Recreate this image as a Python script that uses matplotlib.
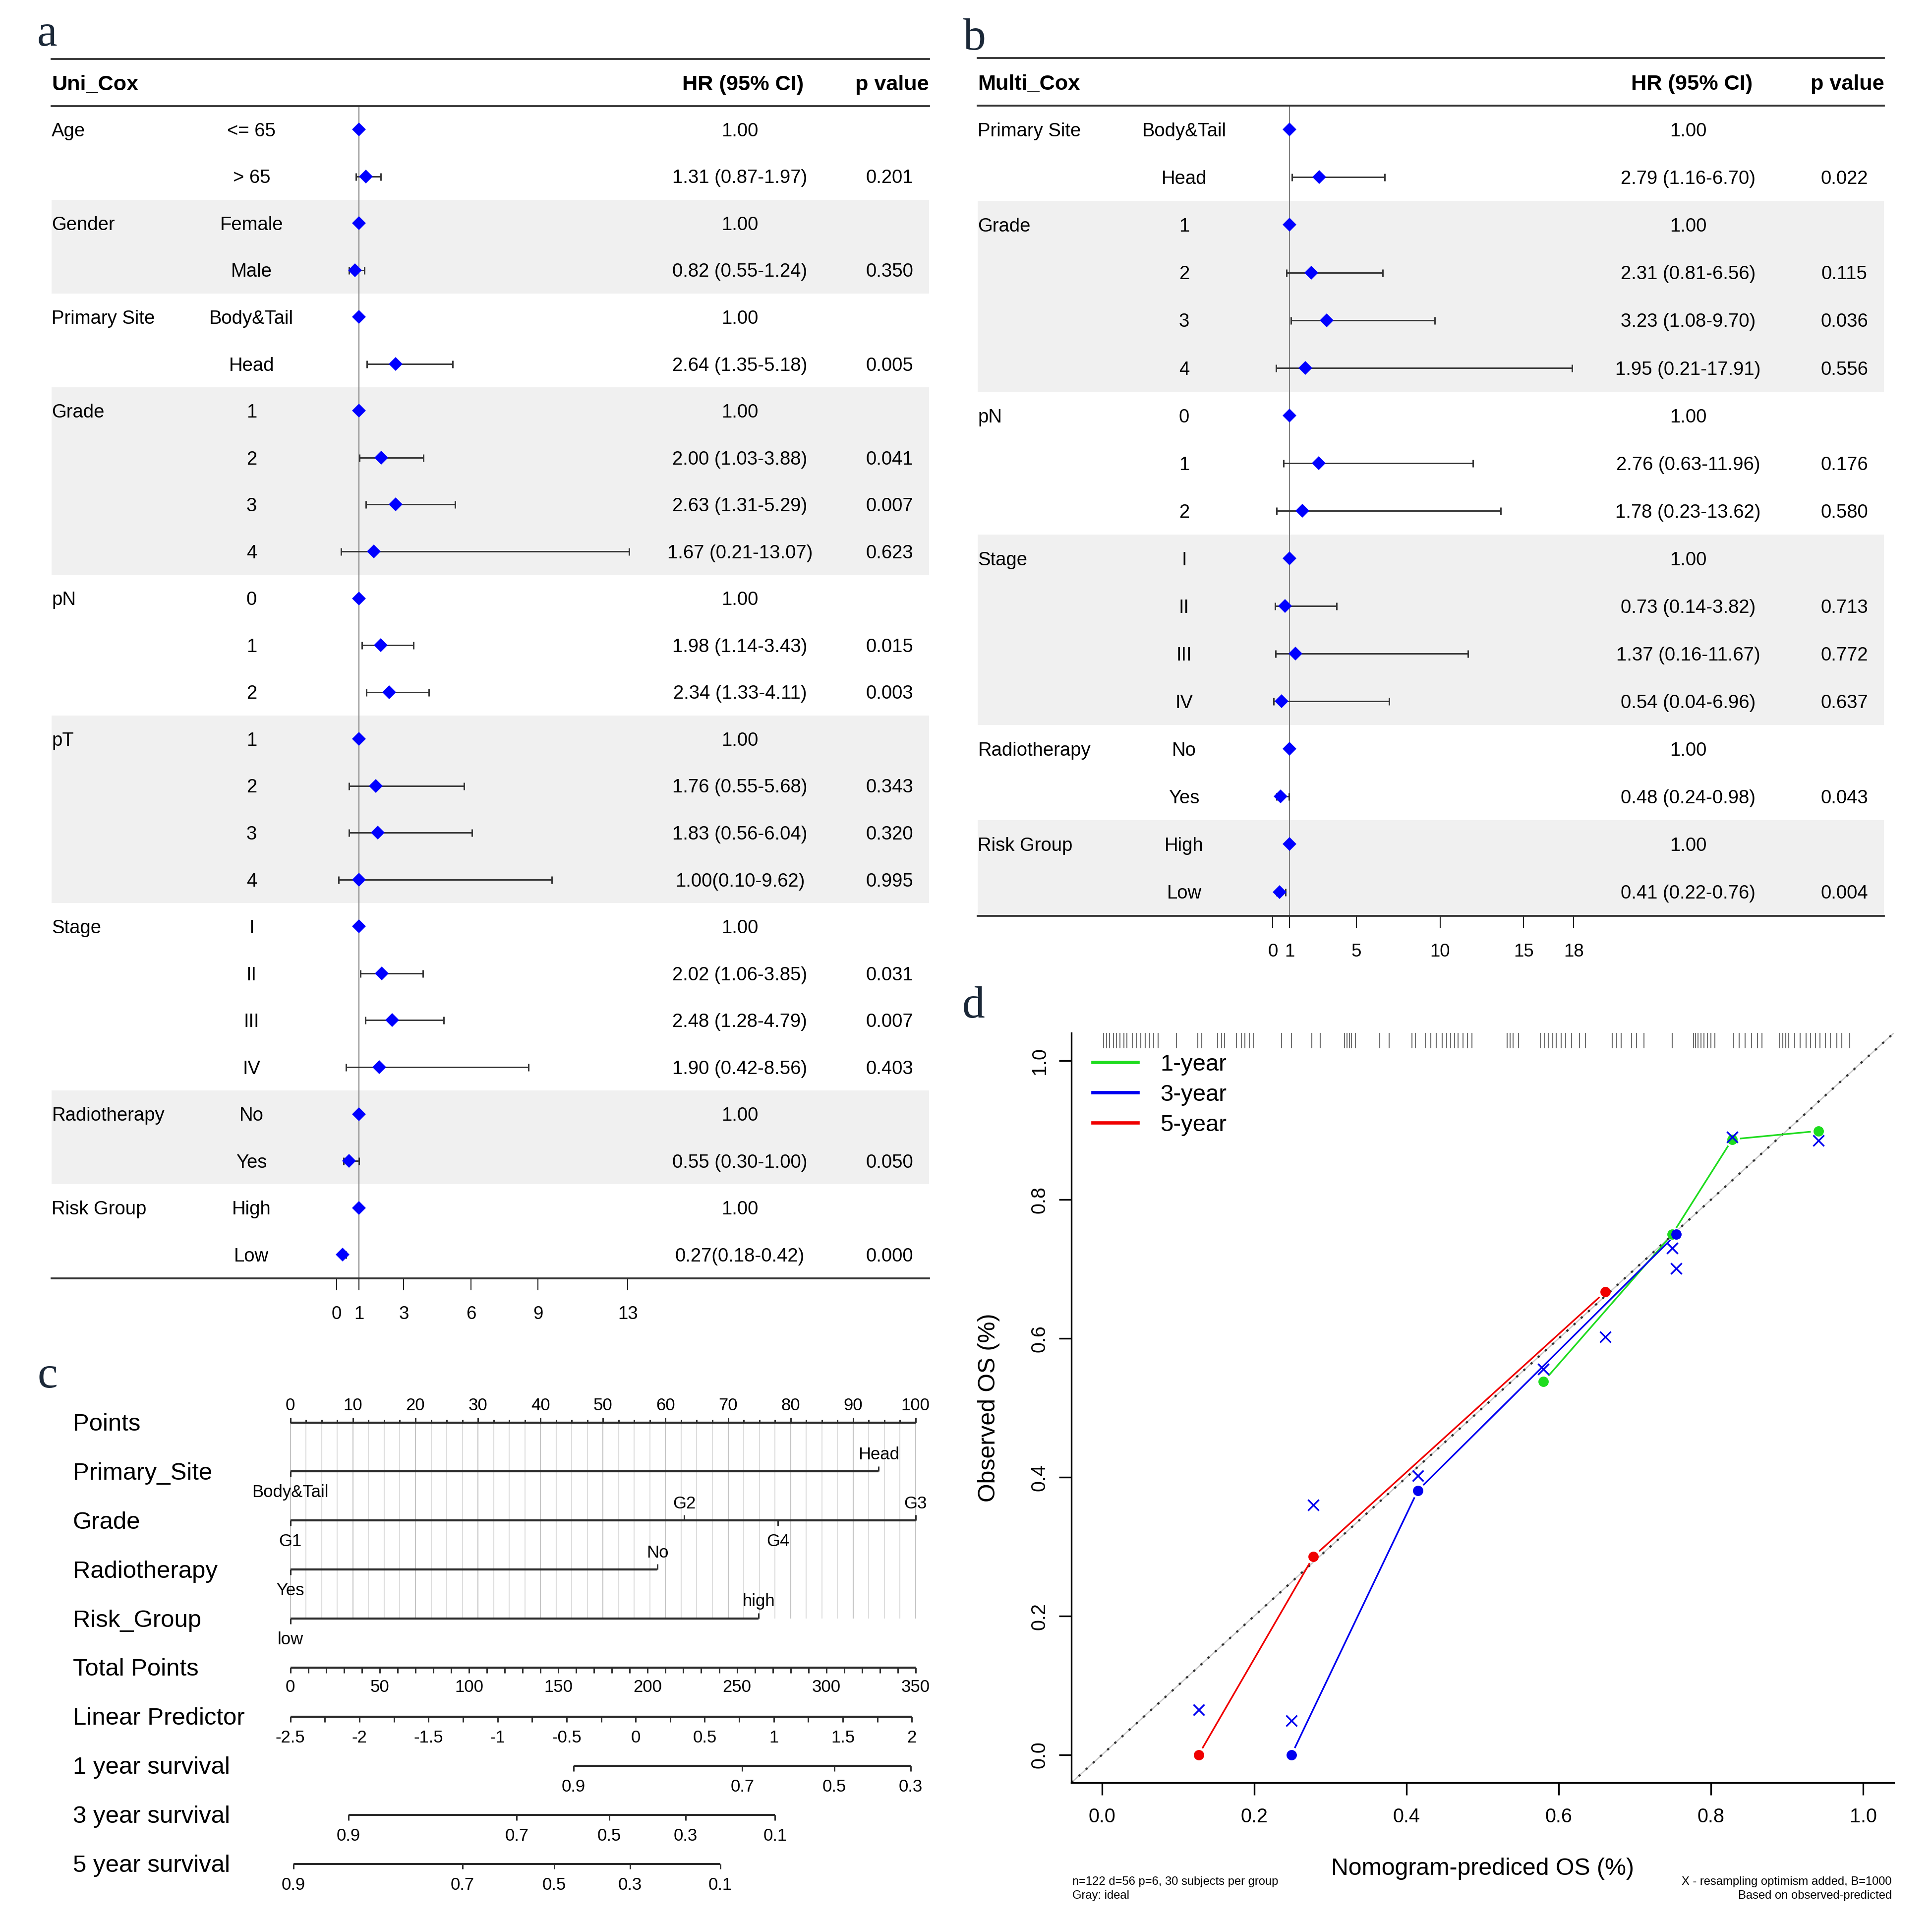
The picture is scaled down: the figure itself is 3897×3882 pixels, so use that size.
import numpy as np
import matplotlib
matplotlib.use('Agg')
import matplotlib.pyplot as plt
from matplotlib.lines import Line2D
from matplotlib.transforms import blended_transform_factory

plt.rcParams['font.family'] = ['Liberation Sans', 'DejaVu Sans']

# ---------------- panel a : univariate Cox ----------------
uni_groups = ['Age', 'Gender', 'Primary Site', 'Grade', 'pN', 'pT', 'Stage', 'Radiotherapy', 'Risk Group']
uni_levels = [['<= 65', '> 65'], ['Female', 'Male'], ['Body&Tail', 'Head'], ['1', '2', '3', '4'],
              ['0', '1', '2'], ['1', '2', '3', '4'], ['I', 'II', 'III', 'IV'], ['No', 'Yes'], ['High', 'Low']]
uni_hr = [1.00, 1.31, 1.00, 0.82, 1.00, 2.64, 1.00, 2.00, 2.63, 1.67, 1.00, 1.98, 2.34,
          1.00, 1.76, 1.83, 1.00, 1.00, 2.02, 2.48, 1.90, 1.00, 0.55, 1.00, 0.27]
uni_lo = [1.00, 0.87, 1.00, 0.55, 1.00, 1.35, 1.00, 1.03, 1.31, 0.21, 1.00, 1.14, 1.33,
          1.00, 0.55, 0.56, 0.10, 1.00, 1.06, 1.28, 0.42, 1.00, 0.30, 1.00, 0.18]
uni_hi = [1.00, 1.97, 1.00, 1.24, 1.00, 5.18, 1.00, 3.88, 5.29, 13.07, 1.00, 3.43, 4.11,
          1.00, 5.68, 6.04, 9.62, 1.00, 3.85, 4.79, 8.56, 1.00, 1.00, 1.00, 0.42]
uni_hr_text = ['1.00', '1.31 (0.87-1.97)', '1.00', '0.82 (0.55-1.24)', '1.00', '2.64 (1.35-5.18)',
               '1.00', '2.00 (1.03-3.88)', '2.63 (1.31-5.29)', '1.67 (0.21-13.07)',
               '1.00', '1.98 (1.14-3.43)', '2.34 (1.33-4.11)',
               '1.00', '1.76 (0.55-5.68)', '1.83 (0.56-6.04)', '1.00(0.10-9.62)',
               '1.00', '2.02 (1.06-3.85)', '2.48 (1.28-4.79)', '1.90 (0.42-8.56)',
               '1.00', '0.55 (0.30-1.00)', '1.00', '0.27(0.18-0.42)']
uni_p = ['', '0.201', '', '0.350', '', '0.005', '', '0.041', '0.007', '0.623', '', '0.015', '0.003',
         '', '0.343', '0.320', '0.995', '', '0.031', '0.007', '0.403', '', '0.050', '', '0.000']
uni_shaded = [False, True, False, True, False, True, False, True, False]
uni_ticks = [0, 1, 3, 6, 9, 13]

# ---------------- panel b : multivariate Cox ----------------
multi_groups = ['Primary Site', 'Grade', 'pN', 'Stage', 'Radiotherapy', 'Risk Group']
multi_levels = [['Body&Tail', 'Head'], ['1', '2', '3', '4'], ['0', '1', '2'],
                ['I', 'II', 'III', 'IV'], ['No', 'Yes'], ['High', 'Low']]
multi_hr = [1.00, 2.79, 1.00, 2.31, 3.23, 1.95, 1.00, 2.76, 1.78, 1.00, 0.73, 1.37, 0.54, 1.00, 0.48, 1.00, 0.41]
multi_lo = [1.00, 1.16, 1.00, 0.81, 1.08, 0.21, 1.00, 0.63, 0.23, 1.00, 0.14, 0.16, 0.04, 1.00, 0.24, 1.00, 0.22]
multi_hi = [1.00, 6.70, 1.00, 6.56, 9.70, 17.91, 1.00, 11.96, 13.62, 1.00, 3.82, 11.67, 6.96, 1.00, 0.98, 1.00, 0.76]
multi_hr_text = ['1.00', '2.79 (1.16-6.70)', '1.00', '2.31 (0.81-6.56)', '3.23 (1.08-9.70)', '1.95 (0.21-17.91)',
                 '1.00', '2.76 (0.63-11.96)', '1.78 (0.23-13.62)',
                 '1.00', '0.73 (0.14-3.82)', '1.37 (0.16-11.67)', '0.54 (0.04-6.96)',
                 '1.00', '0.48 (0.24-0.98)', '1.00', '0.41 (0.22-0.76)']
multi_p = ['', '0.022', '', '0.115', '0.036', '0.556', '', '0.176', '0.580',
           '', '0.713', '0.772', '0.637', '', '0.043', '', '0.004']
multi_shaded = [False, True, False, True, False, True]
multi_ticks = [0, 1, 5, 10, 15, 18]

# ---------------- panel c : nomogram ----------------
nomo_rows = ['Points', 'Primary_Site', 'Grade', 'Radiotherapy', 'Risk_Group',
             'Total Points', 'Linear Predictor', '1 year survival', '3 year survival', '5 year survival']
nomo_vars_levels = [['Body&Tail', 'Head'], ['G1', 'G2', 'G4', 'G3'], ['Yes', 'No'], ['low', 'high']]
nomo_vars_points = [[0, 94.1], [0, 63.0, 78.0, 100.0], [0, 58.7], [0, 74.9]]
total_points_max = 350
total_ticks_major = [0, 50, 100, 150, 200, 250, 300, 350]
lp_labels = [-2.5, -2, -1.5, -1, -0.5, 0, 0.5, 1, 1.5, 2]
lp_total_at_min = 0.0      # total points where LP = -2.5
lp_total_at_max = 347.9    # total points where LP = 2
surv_labels = [['0.9', '0.7', '0.5', '0.3'],
               ['0.9', '0.7', '0.5', '0.3', '0.1'],
               ['0.9', '0.7', '0.5', '0.3', '0.1']]
surv_total_pos = [[158.4, 253.0, 304.4, 347.2],
                  [32.4, 126.7, 178.5, 221.2, 271.3],
                  [1.7, 96.3, 147.7, 190.2, 240.6]]

# ---------------- panel d : calibration ----------------
cal_years = ['1-year', '3-year', '5-year']
cal_colors = ['#1EDC1E', '#0000F0', '#F00000']
cal_pred = [[0.580, 0.749, 0.828, 0.941], [0.249, 0.415, 0.754], [0.127, 0.278, 0.661]]
cal_obs = [[0.538, 0.750, 0.887, 0.899], [0.000, 0.381, 0.750], [0.000, 0.286, 0.667]]
cal_corr = [[0.556, 0.730, 0.890, 0.885], [0.049, 0.402, 0.701], [0.065, 0.360, 0.602]]
rug_pred = [0.002, 0.006, 0.010, 0.015, 0.019, 0.024, 0.029, 0.033, 0.040, 0.045, 0.051, 0.057, 0.063, 0.068, 0.074,
            0.098, 0.126, 0.131,
            0.152, 0.157, 0.161, 0.177, 0.183, 0.188, 0.194, 0.199,
            0.236, 0.249, 0.276, 0.287,
            0.319, 0.322, 0.325, 0.328, 0.333, 0.365, 0.377,
            0.407, 0.412, 0.425, 0.432, 0.439, 0.447, 0.453, 0.458, 0.463, 0.468, 0.474, 0.480, 0.486,
            0.532, 0.536, 0.540, 0.547,
            0.576, 0.581, 0.586, 0.592, 0.597, 0.603, 0.609, 0.617, 0.627, 0.635,
            0.670, 0.676, 0.682, 0.696, 0.702, 0.712, 0.749,
            0.777, 0.780, 0.783, 0.787, 0.791, 0.795, 0.800, 0.805,
            0.830, 0.837, 0.845, 0.853, 0.861, 0.867,
            0.890, 0.894, 0.898, 0.902, 0.910, 0.917, 0.925, 0.931, 0.937, 0.943, 0.950, 0.957, 0.965, 0.972,
            0.982]
cal_ticks = [0.0, 0.2, 0.4, 0.6, 0.8, 1.0]

# =====================================================================
DW, DH = 1560.0, 1554.0


def box(x0, y0, x1, y1):
    return [x0 / DW, 1 - y1 / DH, (x1 - x0) / DW, (y1 - y0) / DH]


fig = plt.figure(figsize=(3897 / 300, 3882 / 300), dpi=300)
fig.patch.set_facecolor('white')

RULE = '#333333'
TY = 0.04   # small downward nudge so digits sit on the row centre


def forest(ax, title, groups, levels, hr, lo, hi, hr_text, pvals, shaded, xlim, ticks, cols, hr_head):
    n = len(hr)
    ax.set_xlim(*xlim)
    ax.set_ylim(n - 0.5, -1.5)
    tr = blended_transform_factory(ax.transAxes, ax.transData)
    fs = 9.2
    row = 0
    for g, lv, sh in zip(groups, levels, shaded):
        if sh:
            ax.axhspan(row - 0.5, row + len(lv) - 0.5, color='#F0F0F0', lw=0, zorder=0)
        ax.text(0.0, row + TY, g, transform=tr, ha='left', va='center', fontsize=fs)
        for j, l in enumerate(lv):
            ax.text(cols[0], row + j + TY, l, transform=tr, ha='center', va='center', fontsize=fs)
        row += len(lv)
    for i in range(n):
        ax.text(cols[1], i + TY, hr_text[i], transform=tr, ha='center', va='center', fontsize=fs)
        if pvals[i]:
            ax.text(cols[2], i + TY, pvals[i], transform=tr, ha='center', va='center', fontsize=fs)
    hy = -0.95
    ax.text(0.0, hy, title, transform=tr, ha='left', va='center', fontsize=10.4, fontweight='bold')
    ax.text(hr_head, hy, 'HR (95% CI)', transform=tr, ha='center', va='center', fontsize=10.4, fontweight='bold')
    ax.text(1.0, hy, 'p value', transform=tr, ha='right', va='center', fontsize=10.4, fontweight='bold')
    for yv in (-1.5, -0.5, n - 0.5):
        ax.axhline(yv, color=RULE, lw=0.9, clip_on=False, zorder=3)
    ax.vlines(1, -0.5, n - 0.5, color='#808080', lw=0.5, zorder=2)
    hr = np.asarray(hr); lo = np.asarray(lo); hi = np.asarray(hi)
    rows = np.arange(n)
    m = np.array([p != '' for p in pvals])
    ax.errorbar(hr[m], rows[m], xerr=[hr[m] - lo[m], hi[m] - hr[m]], fmt='none',
                ecolor='#333333', elinewidth=0.7, capsize=1.8, capthick=0.7, zorder=3)
    ax.plot(hr, rows, linestyle='none', marker='D', color='#0000FF', ms=3.6, zorder=4)
    ax.set_xticks(ticks)
    ax.set_xticklabels([str(t) for t in ticks])
    ax.set_yticks([])
    for s in ax.spines.values():
        s.set_visible(False)
    ax.tick_params(axis='x', length=5.8, width=0.5, color='#222222', pad=7.4, labelsize=8.8)
    ax.patch.set_alpha(0)


ax_a = fig.add_axes(box(41.8, 47.7, 750.2, 1031.8))
forest(ax_a, 'Uni_Cox', uni_groups, uni_levels, uni_hr, uni_lo, uni_hi, uni_hr_text, uni_p, uni_shaded,
       ((41.8 - 271.8) / 18.08, (750.2 - 271.8) / 18.08), uni_ticks, (0.2277, 0.7843, 0.9551), 0.7878)

ax_b = fig.add_axes(box(789.6, 46.9, 1521.3, 739.2))
forest(ax_b, 'Multi_Cox', multi_groups, multi_levels, multi_hr, multi_lo, multi_hi, multi_hr_text, multi_p,
       multi_shaded, ((789.6 - 1027.7) / 13.5, (1521.3 - 1027.7) / 13.5), multi_ticks,
       (0.2276, 0.7838, 0.9561), 0.788)

# ---------------- nomogram ----------------
ax_c = fig.add_axes(box(30, 1115, 770, 1540))
ax_c.set_xlim((30 - 234.5) / 5.048, (770 - 234.5) / 5.048)
ax_c.set_ylim(9.894, -0.841)
ax_c.axis('off')
LC = '#2a2a2a'
LW = 1.0
TFS = 8.3
UP = -0.375 + 0.03
DN = 0.40 + 0.03
TK = 0.11
for i, name in enumerate(nomo_rows):
    ax_c.text((58.7 - 234.5) / 5.048, i + 0.04, name, fontsize=11.8, ha='left', va='center')

# Points scale and grid
for v in np.arange(0, 100.001, 2.5):
    major = abs(v % 10) < 1e-9
    ax_c.vlines(v, 0, 4, color='#C4C4C4' if major else '#DEDEDE', lw=0.5, zorder=0)
    ax_c.vlines(v, 0, -(0.10 if major else 0.06), color=LC, lw=0.7)
    if major:
        ax_c.text(v, UP, '%d' % v, ha='center', va='center', fontsize=TFS)
ax_c.hlines(0, 0, 100, color=LC, lw=LW)

# variables
for k, (lv, pv) in enumerate(zip(nomo_vars_levels, nomo_vars_points)):
    r = k + 1
    ax_c.hlines(r, min(pv), max(pv), color=LC, lw=LW)
    order = np.argsort(pv)
    for rank, idx in enumerate(order):
        x = pv[idx]
        if rank % 2 == 0:
            ax_c.vlines(x, r, r + TK, color=LC, lw=0.7)
            ax_c.text(x, r + DN, lv[idx], ha='center', va='center', fontsize=TFS)
        else:
            ax_c.vlines(x, r, r - TK, color=LC, lw=0.7)
            ax_c.text(x, r + UP, lv[idx], ha='center', va='center', fontsize=TFS)


def tp2pts(t):
    return np.asarray(t) * 100.0 / total_points_max


# Total points
r = 5
ax_c.hlines(r, 0, 100, color=LC, lw=LW)
for t in range(0, total_points_max + 1, 10):
    ax_c.vlines(tp2pts(t), r, r + TK, color=LC, lw=0.7)
for t in total_ticks_major:
    ax_c.text(tp2pts(t), r + 0.40, '%d' % t, ha='center', va='center', fontsize=TFS)

# Linear predictor
r = 6
lp_min, lp_max = lp_labels[0], lp_labels[-1]


def lp2pts(v):
    t = lp_total_at_min + (v - lp_min) / (lp_max - lp_min) * (lp_total_at_max - lp_total_at_min)
    return tp2pts(t)


ax_c.hlines(r, lp2pts(lp_min), lp2pts(lp_max), color=LC, lw=LW)
for v in np.arange(lp_min, lp_max + 0.001, 0.25):
    ax_c.vlines(lp2pts(v), r, r + TK, color=LC, lw=0.7)
for v in lp_labels:
    ax_c.text(lp2pts(v), r + DN, '%g' % v, ha='center', va='center', fontsize=TFS)

# survival scales
for k, (labs, pos) in enumerate(zip(surv_labels, surv_total_pos)):
    r = 7 + k
    xs = tp2pts(pos)
    ax_c.hlines(r, xs.min(), xs.max(), color=LC, lw=LW)
    for x, lab in zip(xs, labs):
        ax_c.vlines(x, r, r + TK, color=LC, lw=0.7)
        ax_c.text(x, r + DN, lab, ha='center', va='center', fontsize=TFS)

# ---------------- calibration ----------------
ax_d = fig.add_axes(box(865.1, 834.0, 1529.1, 1439.1))
ax_d.set_xlim(-0.04, 1.04)
ax_d.set_ylim(-0.04, 1.04)
for s in ('top', 'right'):
    ax_d.spines[s].set_visible(False)
for s in ('left', 'bottom'):
    ax_d.spines[s].set_linewidth(0.8)
ax_d.set_xticks(cal_ticks)
ax_d.set_xticklabels(['%.1f' % t for t in cal_ticks])
ax_d.set_yticks(cal_ticks)
ax_d.set_yticklabels(['%.1f' % t for t in cal_ticks], rotation=90, va='center')
ax_d.tick_params(length=6.1, width=0.8, labelsize=9.5)
ax_d.tick_params(axis='x', pad=6)
ax_d.tick_params(axis='y', pad=4.8)

ax_d.axline((0, 0), (1, 1), color='#C8C8C8', lw=0.6, zorder=1)
ax_d.axline((0, 0), (1, 1), color='#303030', lw=1.0, dashes=(1.1, 3.6), zorder=1)

ax_d.vlines(rug_pred, 0.9795, 1.0, transform=ax_d.get_xaxis_transform(), color='#6E6E6E', lw=0.5)


def gapped(ax, xs, ys, color, gap_px=17):
    pts = ax.transData.transform(np.column_stack([xs, ys]))
    inv = ax.transData.inverted()
    for p0, p1 in zip(pts[:-1], pts[1:]):
        d = p1 - p0
        L = np.hypot(d[0], d[1])
        if L <= 2 * gap_px:
            continue
        u = d / L
        a = inv.transform(p0 + u * gap_px)
        b = inv.transform(p1 - u * gap_px)
        ax.plot([a[0], b[0]], [a[1], b[1]], color=color, lw=0.8, zorder=2)


for pred, obs, corr, col in zip(cal_pred, cal_obs, cal_corr, cal_colors):
    gapped(ax_d, pred, obs, col)
    ax_d.plot(pred, obs, linestyle='none', marker='o', ms=4.0, color=col, zorder=3)
    ax_d.plot(pred, corr, linestyle='none', marker='x', ms=5.3, mew=0.8, color='#0000F0', zorder=4)

handles = [Line2D([0], [0], color=c, lw=1.6) for c in cal_colors]
ax_d.legend(handles, cal_years, loc='upper left', bbox_to_anchor=(0.0256, 0.9727), frameon=False,
            fontsize=11.35, handlelength=1.94, handletextpad=0.95, labelspacing=0.36,
            borderpad=0, borderaxespad=0)

ax_d.set_xlabel('Nomogram-prediced OS (%)', fontsize=11.6)
ax_d.xaxis.set_label_coords(0.5, -0.1147)
ax_d.xaxis.label.set_va('center')
ax_d.set_ylabel('Observed OS (%)', fontsize=11.6)
ax_d.yaxis.set_label_coords(-0.1005, 0.5)
ax_d.yaxis.label.set_va('center')

fig.text(865.9 / DW, 1 - 1519.2 / DH, 'n=122 d=56 p=6, 30 subjects per group', fontsize=5.7, ha='left', va='center')
fig.text(865.9 / DW, 1 - 1530.5 / DH, 'Gray: ideal', fontsize=5.7, ha='left', va='center')
fig.text(1527.5 / DW, 1 - 1519.2 / DH, 'X - resampling optimism added, B=1000', fontsize=5.7, ha='right', va='center')
fig.text(1527.5 / DW, 1 - 1530.5 / DH, 'Based on observed-predicted', fontsize=5.7, ha='right', va='center')

# panel letters
LETTER = dict(family=['Liberation Serif', 'DejaVu Serif'], fontsize=22, ha='center', va='baseline', color='#1b2838')
fig.text(38 / DW, 1 - 37 / DH, 'a', **LETTER)
fig.text(787 / DW, 1 - 40 / DH, 'b', **LETTER)
fig.text(38.5 / DW, 1 - 1120 / DH, 'c', **LETTER)
fig.text(786 / DW, 1 - 821.5 / DH, 'd', **LETTER)

fig.savefig('out.png', dpi=300, facecolor='white')
